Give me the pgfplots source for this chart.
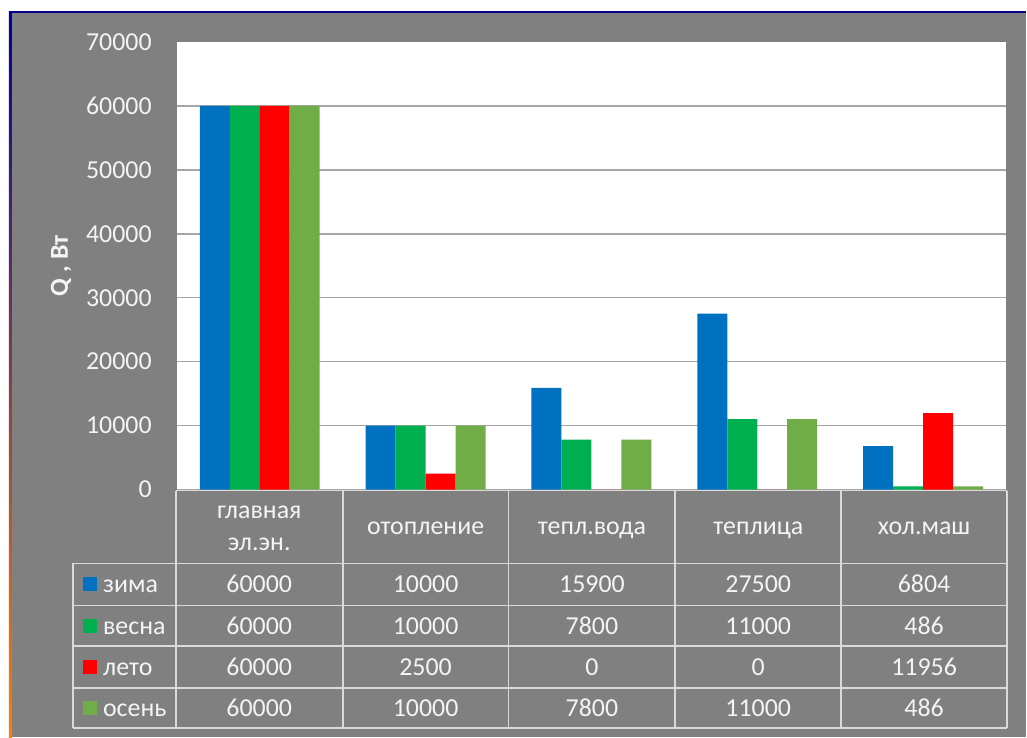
\documentclass[border=0pt]{standalone}
\usepackage{pgfplots}
\pgfplotsset{compat=1.18}
\usepackage{fontspec}
\setmainfont{Carlito}
\definecolor{cBlue}{HTML}{0070C0}
\definecolor{cGreen}{HTML}{00B050}
\definecolor{cRed}{HTML}{FF0000}
\definecolor{cLGreen}{HTML}{70AD47}
\definecolor{bgGray}{HTML}{808080}
\definecolor{gridGray}{HTML}{A6A6A6}
\definecolor{txt}{HTML}{F4F4F4}
\definecolor{tblLine}{HTML}{DADADA}
\newcommand{\fs}{\fontsize{26}{31}\selectfont}
\begin{document}
\begin{tikzpicture}
\begin{scope}[x=1bp,y=-1bp]
  \fill[white] (0,0) rectangle (1027,738);
  \fill[bgGray] (10,12) rectangle (1027,738);
  \draw[line width=2bp, color=blue!50!black] (10,12) -- (1027,12);
  \shade[top color=blue!60!black, middle color=red, bottom color=orange] (9,12) rectangle (12,738);
\end{scope}
\begin{axis}[
  at={(177bp,-490bp)}, anchor=south west,
  width=830bp, height=448bp, scale only axis,
  xmin=-0.5, xmax=4.5, ymin=0, ymax=70000,
  axis line style={draw=none},
  xtick=\empty,
  ytick={0,10000,...,60000},
  extra y ticks={70000},
  extra y tick style={grid=none},
  ymajorgrids,
  grid style={color=gridGray, line width=1.5bp},
  major tick length=0pt,
  yticklabel style={text=txt, font=\fs, inner sep=0pt, xshift=-25bp},
  /pgf/number format/assume math mode=true,
  /pgf/number format/1000 sep={},
  scaled y ticks=false,
  axis background/.style={fill=white},
  ybar=0pt, bar width=30bp,
  every axis plot/.append style={draw=none},
  ylabel={Q , Вт},
  every axis y label/.style={at={(axis description cs:-0.1395,0.5)}, rotate=90, anchor=center, font=\fs\bfseries, text=txt},
]
\addplot[fill=cBlue] coordinates {(0,60000) (1,10000) (2,15900) (3,27500) (4,6804)};
\addplot[fill=cGreen] coordinates {(0,60000) (1,10000) (2,7800) (3,11000) (4,486)};
\addplot[fill=cRed] coordinates {(0,60000) (1,2500) (2,0) (3,0) (4,11956)};
\addplot[fill=cLGreen] coordinates {(0,60000) (1,10000) (2,7800) (3,11000) (4,486)};
\end{axis}
\begin{scope}[x=1bp,y=-1bp, cell/.style={text=txt, font=\fs, inner sep=0pt, text height=16.5bp, text depth=0bp}]
  % table lines
  \draw[tblLine, line width=1.8bp] (176,491) -- (1008,491);
  \foreach \y in {564,606,647,689,729} \draw[tblLine, line width=1.8bp] (73,\y) -- (1008,\y);
  \draw[tblLine, line width=1.8bp] (73,564) -- (73,729);
  \foreach \x in {176,343,509,676,842,1008} \draw[tblLine, line width=1.8bp] (\x,491) -- (\x,729);
  % header
  \node[cell] at (259.5,511) {главная};
  \node[cell] at (259.5,543) {эл.эн.};
  \foreach \x/\t in {426/отопление,592.5/тепл.вода,759/теплица,925/хол.маш}
    \node[cell] at (\x,527) {\t};
  % legend column
  \foreach \y/\c/\t in {585/cBlue/зима,626.5/cGreen/весна,668/cRed/лето,709/cLGreen/осень}{
    \fill[\c] (83,\y-7) rectangle (97,\y+7);
    \node[cell, anchor=west] at (103,\y) {\t};
  }
  % values
  \foreach \y/\a/\b/\c/\d/\e in {585/60000/10000/15900/27500/6804,626.5/60000/10000/7800/11000/486,668/60000/2500/0/0/11956,709/60000/10000/7800/11000/486}{
    \node[cell] at (259.5,\y) {\a};
    \node[cell] at (426,\y) {\b};
    \node[cell] at (592.5,\y) {\c};
    \node[cell] at (759,\y) {\d};
    \node[cell] at (925,\y) {\e};
  }
\end{scope}
\end{tikzpicture}
\end{document}
